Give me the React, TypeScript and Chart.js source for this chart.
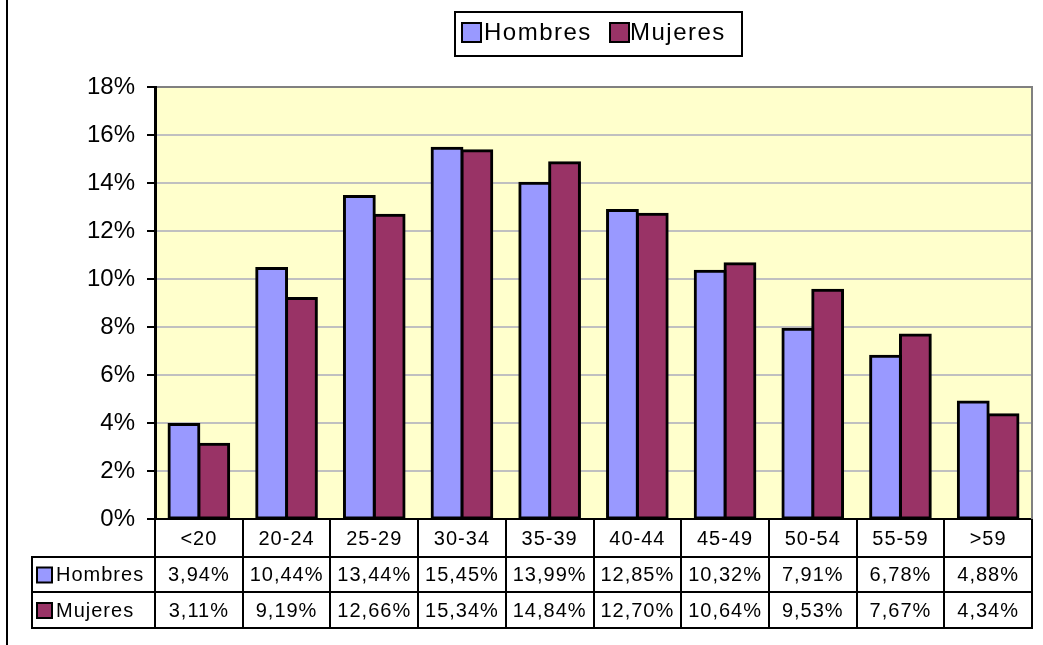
import React, { useEffect, useRef } from "react";
import { Chart, registerables } from "chart.js";

Chart.register(...registerables);

const categories = ["<20", "20-24", "25-29", "30-34", "35-39", "40-44", "45-49", "50-54", "55-59", ">59"];
const hombres = [3.94, 10.44, 13.44, 15.45, 13.99, 12.85, 10.32, 7.91, 6.78, 4.88];
const mujeres = [3.11, 9.19, 12.66, 15.34, 14.84, 12.7, 10.64, 9.53, 7.67, 4.34];
const seriesNames = ["Hombres", "Mujeres"];
const seriesColors = ["#9999FF", "#993366"];
const yMax = 18;
const yStep = 2;

const FONT = '"Liberation Sans", Arial, sans-serif';

const fmt = (v: number) => v.toFixed(2).replace(".", ",") + "%";

const customPlugin = {
  id: "excelStyle",
  beforeDraw(chart: any) {
    const { ctx, chartArea } = chart;
    ctx.save();
    ctx.fillStyle = "#FFFFFF";
    ctx.fillRect(0, 0, chart.width, chart.height);
    ctx.fillStyle = "#FFFFCC";
    ctx.fillRect(chartArea.left, chartArea.top, chartArea.right - chartArea.left, chartArea.bottom - chartArea.top);
    ctx.fillStyle = "#000";
    ctx.fillRect(6, 0, 2, chart.height);
    ctx.restore();
  },
  afterDraw(chart: any) {
    const { ctx, chartArea } = chart;
    const xs = chart.scales.x;
    ctx.save();
    ctx.strokeStyle = "#808080";
    ctx.lineWidth = 2;
    ctx.beginPath();
    ctx.moveTo(chartArea.right, chartArea.top - 1);
    ctx.lineTo(chartArea.right, chartArea.bottom);
    ctx.stroke();

    const n = categories.length;
    const colW = (chartArea.right - chartArea.left) / n;
    const tableLeft = 32;
    const top = chartArea.bottom;
    const r1 = 557;
    const r2 = 592;
    const r3 = 628;
    ctx.strokeStyle = "#000";
    ctx.lineWidth = 2;
    ctx.beginPath();
    for (let i = 0; i <= n; i++) {
      const x = Math.round(xs.getPixelForValue(i) - colW / 2);
      const xx = i === n ? chartArea.right : x;
      ctx.moveTo(xx, top);
      ctx.lineTo(xx, r3 + 1);
    }
    ctx.moveTo(tableLeft, r1);
    ctx.lineTo(tableLeft, r3 + 1);
    [r1, r2, r3].forEach((y) => {
      ctx.moveTo(tableLeft - 1, y);
      ctx.lineTo(chartArea.right + 1, y);
    });
    ctx.stroke();

    ctx.fillStyle = "#000";
    ctx.font = `20px ${FONT}`;
    (ctx as any).letterSpacing = "1px";
    ctx.textAlign = "center";
    ctx.textBaseline = "middle";
    const rowsY = [(top + r1) / 2 + 1, (r1 + r2) / 2 + 1, (r2 + r3) / 2 + 1];
    categories.forEach((c, i) => {
      const cx = xs.getPixelForValue(i);
      ctx.fillText(c, cx, rowsY[0]);
      ctx.fillText(fmt(hombres[i]), cx, rowsY[1]);
      ctx.fillText(fmt(mujeres[i]), cx, rowsY[2]);
    });
    ctx.textAlign = "left";
    [hombres, mujeres].forEach((_, k) => {
      const y = rowsY[k + 1];
      ctx.fillStyle = seriesColors[k];
      ctx.fillRect(37, y - 8, 15, 15);
      ctx.strokeStyle = "#000";
      ctx.lineWidth = 2;
      ctx.strokeRect(37, y - 8, 15, 15);
      ctx.fillStyle = "#000";
      ctx.fillText(seriesNames[k], 56, y);
    });

    ctx.strokeStyle = "#000";
    ctx.lineWidth = 2;
    ctx.strokeRect(455, 12, 287, 44);
    ctx.font = `24px ${FONT}`;
    (ctx as any).letterSpacing = "1.5px";
    const legendItems = [
      { x: 462, tx: 484 },
      { x: 610, tx: 630 },
    ];
    legendItems.forEach((it, k) => {
      ctx.fillStyle = seriesColors[k];
      ctx.fillRect(it.x, 23, 19, 19);
      ctx.strokeStyle = "#000";
      ctx.lineWidth = 2;
      ctx.strokeRect(it.x, 23, 19, 19);
      ctx.fillStyle = "#000";
      ctx.fillText(seriesNames[k], it.tx, 33);
    });
    ctx.restore();
  },
};

export default function App() {
  const ref = useRef<HTMLCanvasElement>(null);
  useEffect(() => {
    if (!ref.current) return;
    const barStyle = {
      borderColor: "#000",
      borderWidth: 3,
      borderSkipped: false as const,
      inflateAmount: 1.5,
      barPercentage: 1,
      categoryPercentage: 0.68,
    };
    const chart = new Chart(ref.current, {
      type: "bar",
      data: {
        labels: categories,
        datasets: [
          { label: seriesNames[0], data: hombres, backgroundColor: seriesColors[0], ...barStyle },
          { label: seriesNames[1], data: mujeres, backgroundColor: seriesColors[1], ...barStyle },
        ],
      },
      options: {
        animation: false,
        responsive: false,
        devicePixelRatio: 1,
        layout: { padding: { left: 0, top: 87, right: 11, bottom: 126 } },
        plugins: {
          legend: { display: false },
          tooltip: { enabled: false },
        },
        scales: {
          x: { display: false },
          y: {
            min: 0,
            max: yMax,
            afterFit: (s: any) => {
              s.width = 155;
            },
            border: { color: "#000", width: 3 },
            grid: {
              color: (c: any) =>
                c.tick && c.tick.value === 0 ? "#000" : c.tick && c.tick.value === yMax ? "#808080" : "#C0C0C0",
              lineWidth: 2,
              tickColor: "#000",
              tickLength: 8,
            },
            ticks: {
              stepSize: yStep,
              padding: 12,
              color: "#000",
              font: { family: FONT, size: 24 },
              callback: (v: any) => v + "%",
            },
          },
        },
      },
      plugins: [customPlugin],
    });
    return () => chart.destroy();
  }, []);
  return (
    <div style={{ position: "fixed", left: 0, top: 0, width: 1043, height: 645 }}>
      <canvas ref={ref} width={1043} height={645} />
    </div>
  );
}
